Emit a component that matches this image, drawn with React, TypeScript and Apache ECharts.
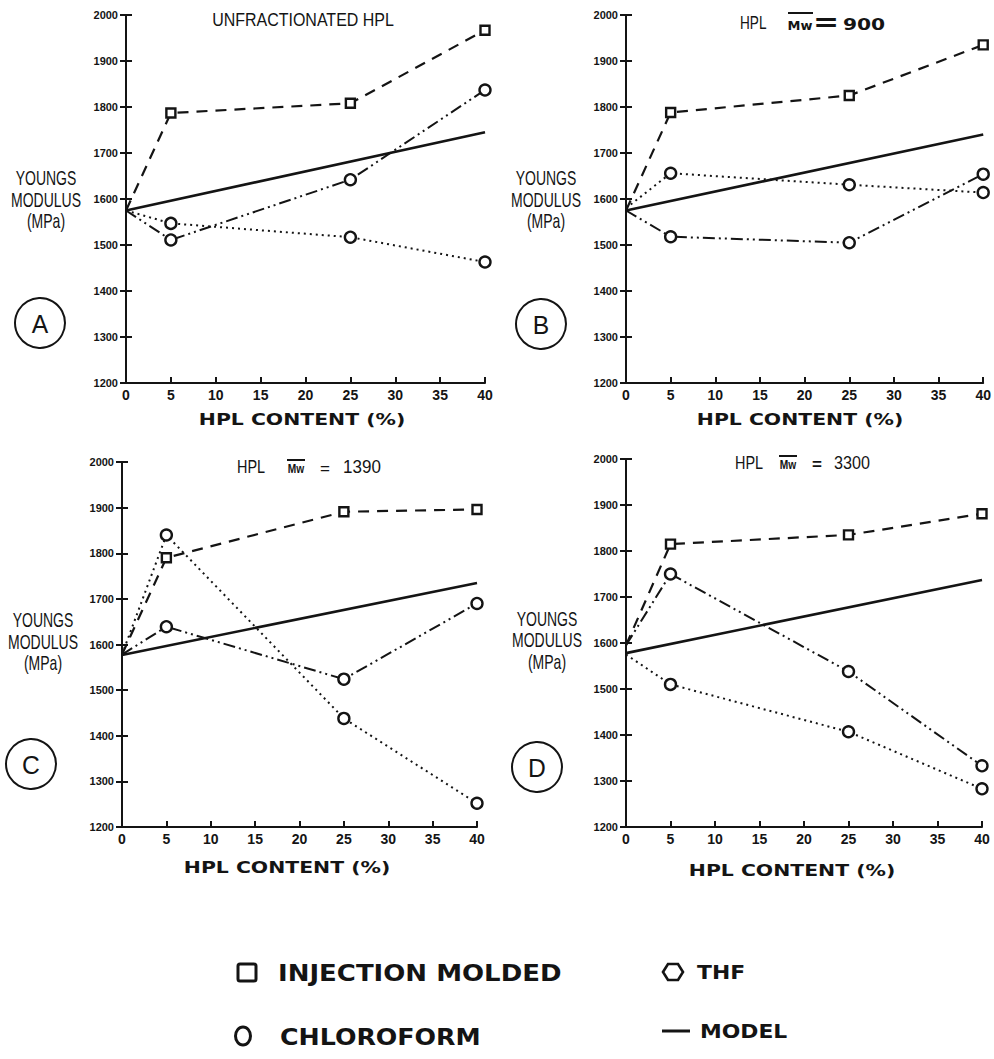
import React, { useEffect, useRef } from "react";
import * as echarts from "echarts";

// ---------- data ----------
const HPL_CONTENT = [0, 5, 25, 40];
const MODEL_X = [0, 40];
const Y_MIN = 1200;
const Y_MAX = 2000;
const Y_STEP = 100;
const X_MIN = 0;
const X_MAX = 40;
const X_STEP = 5;

const A_INJECTION = [1575, 1787, 1808, 1967];
const A_CHLOROFORM = [1575, 1547, 1517, 1463];
const A_THF = [1575, 1511, 1642, 1837];
const A_MODEL = [1575, 1745];

const B_INJECTION = [1575, 1788, 1825, 1935];
const B_CHLOROFORM = [1580, 1656, 1631, 1614];
const B_THF = [1575, 1518, 1505, 1654];
const B_MODEL = [1575, 1740];

const C_INJECTION = [1578, 1790, 1891, 1896];
const C_CHLOROFORM = [1578, 1840, 1438, 1252];
const C_THF = [1578, 1639, 1524, 1690];
const C_MODEL = [1577, 1735];

const D_INJECTION = [1595, 1815, 1835, 1881];
const D_CHLOROFORM = [1575, 1510, 1407, 1283];
const D_THF = [1595, 1750, 1538, 1333];
const D_MODEL = [1578, 1737];

const PANEL_LETTERS = ["A", "B", "C", "D"];
const X_NAME = "HPL CONTENT (%)";
const Y_NAME = ["YOUNGS", "MODULUS", "(MPa)"];
const LEGEND_LABELS = ["INJECTION MOLDED", "THF", "CHLOROFORM", "MODEL"];

const PANEL_DATA = [
  { inj: A_INJECTION, chl: A_CHLOROFORM, thf: A_THF, model: A_MODEL },
  { inj: B_INJECTION, chl: B_CHLOROFORM, thf: B_THF, model: B_MODEL },
  { inj: C_INJECTION, chl: C_CHLOROFORM, thf: C_THF, model: C_MODEL },
  { inj: D_INJECTION, chl: D_CHLOROFORM, thf: D_THF, model: D_MODEL },
];

// ---------- layout ----------
const INK = "#141414";
const GRIDS = [
  { left: 126, top: 15, width: 359, height: 368 },
  { left: 626, top: 15, width: 360, height: 368 },
  { left: 122, top: 462, width: 355, height: 365 },
  { left: 626, top: 459, width: 356, height: 368 },
];
const YNAME_POS = [
  { x: 46, y: [178, 200, 221] },
  { x: 546, y: [178, 200, 221] },
  { x: 43, y: [620, 642, 663] },
  { x: 547, y: [619, 640, 662] },
];
const XNAME_POS = [
  { x: 302, y: 420 },
  { x: 800, y: 420 },
  { x: 287, y: 868 },
  { x: 792, y: 871 },
];
const CIRCLE_POS = [
  { x: 40, y: 323 },
  { x: 541, y: 324 },
  { x: 31, y: 764 },
  { x: 537, y: 767 },
];

function pts(xs: number[], ys: number[], hideFirst: boolean) {
  return ys.map((v, i) =>
    i === 0 && hideFirst ? { value: [xs[i], v], symbol: "none" } : [xs[i], v]
  );
}

function txt(
  text: string,
  x: number,
  y: number,
  size: number,
  opts: any = {}
) {
  return {
    type: "text",
    x,
    y,
    scaleX: opts.scaleX ?? 1,
    scaleY: opts.scaleY ?? 1,
    silent: true,
    style: {
      text,
      fill: INK,
      fontSize: size,
      fontFamily: opts.family ?? "Liberation Sans",
      fontWeight: opts.weight ?? "normal",
      textAlign: opts.align ?? "center",
      textVerticalAlign: "middle",
    },
  };
}

function hline(x1: number, x2: number, y: number, w: number) {
  return {
    type: "line",
    silent: true,
    shape: { x1, y1: y, x2, y2: y },
    style: { stroke: INK, lineWidth: w },
  };
}

export default function App() {
  const ref = useRef<HTMLDivElement>(null);

  useEffect(() => {
    document.body.style.margin = "0";
    if (!ref.current) return;
    const chart = echarts.init(ref.current, undefined, { renderer: "svg" });

    const grid = GRIDS.map((g) => ({ ...g, containLabel: false }));

    const xAxis = GRIDS.map((_, i) => ({
      gridIndex: i,
      type: "value",
      min: X_MIN,
      max: X_MAX,
      interval: X_STEP,
      axisLine: { show: true, lineStyle: { color: INK, width: 2 } },
      axisTick: { show: true, inside: true, length: 6, lineStyle: { color: INK, width: 2 } },
      axisLabel: {
        color: INK,
        fontSize: 14,
        fontWeight: "bold",
        fontFamily: "Liberation Sans",
        margin: 5,
        formatter: (v: number) => String(v),
      },
      splitLine: { show: false },
    }));

    const yAxis: any[] = [];
    GRIDS.forEach((_, i) => {
      yAxis.push({
        gridIndex: i,
        type: "value",
        position: "left",
        min: Y_MIN,
        max: Y_MAX,
        interval: Y_STEP,
        axisLine: { show: true, lineStyle: { color: INK, width: 2 } },
        axisTick: { show: true, length: 6, lineStyle: { color: INK, width: 2 } },
        axisLabel: {
          color: INK,
          fontSize: 11,
          fontWeight: "bold",
          fontFamily: "Liberation Sans",
          margin: 8,
          formatter: (v: number) => String(v),
        },
        splitLine: { show: false },
      });
      yAxis.push({
        gridIndex: i,
        type: "value",
        position: "left",
        offset: 0,
        min: Y_MIN,
        max: Y_MAX,
        interval: Y_STEP,
        axisLine: { show: false },
        axisTick: { show: true, inside: true, length: 6, lineStyle: { color: INK, width: 2 } },
        axisLabel: { show: false },
        splitLine: { show: false },
      });
    });

    const series: any[] = [];
    PANEL_DATA.forEach((p, i) => {
      const base = { type: "line", xAxisIndex: i, yAxisIndex: 2 * i, silent: true };
      series.push({
        ...base,
        name: "MODEL",
        data: pts(MODEL_X, p.model, false),
        symbol: "none",
        lineStyle: { color: INK, width: 2.6, type: "solid" },
        z: 2,
      });
      series.push({
        ...base,
        name: "INJECTION MOLDED",
        data: pts(HPL_CONTENT, p.inj, true),
        symbol: "rect",
        symbolSize: 9,
        itemStyle: { color: "#fff", borderColor: INK, borderWidth: 2.4 },
        lineStyle: { color: INK, width: 2.2, type: [11, 8] },
        z: 3,
      });
      series.push({
        ...base,
        name: "CHLOROFORM",
        data: pts(HPL_CONTENT, p.chl, true),
        symbol: "circle",
        symbolSize: 11,
        itemStyle: { color: "#fff", borderColor: INK, borderWidth: 2.4 },
        lineStyle: { color: INK, width: 2, type: [2, 4] },
        z: 3,
      });
      series.push({
        ...base,
        name: "THF",
        data: pts(HPL_CONTENT, p.thf, true),
        symbol: "circle",
        symbolSize: 11,
        itemStyle: { color: "#fff", borderColor: INK, borderWidth: 2.4 },
        lineStyle: { color: INK, width: 2, type: [12, 4, 2, 4, 2, 4] },
        z: 3,
      });
    });

    const graphic: any[] = [];

    // titles
    graphic.push(txt("UNFRACTIONATED HPL", 303, 20, 16, { scaleY: 1.1 }));
    // B
    graphic.push(txt("HPL", 740, 23, 16, { align: "left", scaleX: 0.85, scaleY: 1.1 }));
    graphic.push(txt("Mw", 800, 25, 13, { weight: "bold", family: "DejaVu Sans" }));
    graphic.push(hline(788, 813, 13, 2));
    graphic.push(txt("=", 826, 22, 26, { weight: "bold", family: "DejaVu Sans", scaleX: 1.2 }));
    graphic.push(txt("900", 864, 25, 15, { weight: "bold", family: "DejaVu Sans", scaleX: 1.35 }));
    // C
    graphic.push(txt("HPL", 237, 467, 17, { align: "left", scaleX: 0.85, scaleY: 1.1 }));
    graphic.push(txt("Mw", 296, 469, 12, { weight: "bold", scaleX: 0.85 }));
    graphic.push(hline(287, 305, 460, 2));
    graphic.push(txt("=", 325, 468, 17));
    graphic.push(txt("1390", 362, 467, 17, { scaleY: 1.1 }));
    // D
    graphic.push(txt("HPL", 735, 463, 17, { align: "left", scaleX: 0.85, scaleY: 1.1 }));
    graphic.push(txt("Mw", 788, 465, 12, { weight: "bold", scaleX: 0.85 }));
    graphic.push(hline(779, 797, 456, 2));
    graphic.push(txt("=", 817, 464, 17, { weight: "bold" }));
    graphic.push(txt("3300", 852, 463, 17, { scaleY: 1.1, scaleX: 0.95 }));

    // axis names, circled letters
    for (let i = 0; i < 4; i++) {
      const yn = YNAME_POS[i];
      Y_NAME.forEach((line, k) => {
        graphic.push(txt(line, yn.x, yn.y[k], 20, { scaleX: 0.7 }));
      });
      const xn = XNAME_POS[i];
      graphic.push(txt(X_NAME, xn.x, xn.y, 15, { weight: "bold", family: "DejaVu Sans", scaleX: 1.36 }));
      const c = CIRCLE_POS[i];
      graphic.push({
        type: "circle",
        silent: true,
        shape: { cx: c.x, cy: c.y, r: 25 },
        style: { fill: "none", stroke: INK, lineWidth: 2 },
      });
      graphic.push(txt(PANEL_LETTERS[i], c.x, c.y + 1, 26, { scaleX: 0.95 }));
    }

    // legend
    graphic.push({
      type: "rect",
      silent: true,
      shape: { x: 238, y: 964, width: 18, height: 17, r: 2 },
      style: { fill: "none", stroke: INK, lineWidth: 3 },
    });
    graphic.push(txt(LEGEND_LABELS[0], 278, 973, 23, { align: "left", weight: "bold", family: "DejaVu Sans", scaleX: 1.13 }));
    graphic.push({
      type: "polygon",
      silent: true,
      shape: {
        points: [
          [663, 972],
          [668, 964],
          [678, 964],
          [683, 972],
          [678, 980],
          [668, 980],
        ],
      },
      style: { fill: "none", stroke: INK, lineWidth: 2.6 },
    });
    graphic.push(txt(LEGEND_LABELS[1], 697, 973, 19, { align: "left", weight: "bold", family: "DejaVu Sans", scaleX: 1.15 }));
    graphic.push({
      type: "ellipse",
      silent: true,
      shape: { cx: 243, cy: 1036, rx: 7.5, ry: 9 },
      style: { fill: "none", stroke: INK, lineWidth: 3 },
    });
    graphic.push(txt(LEGEND_LABELS[2], 280, 1037, 23, { align: "left", weight: "bold", family: "DejaVu Sans", scaleX: 1.1 }));
    graphic.push(hline(662, 690, 1031, 3));
    graphic.push(txt(LEGEND_LABELS[3], 700, 1032, 19, { align: "left", weight: "bold", family: "DejaVu Sans", scaleX: 1.15 }));

    chart.setOption({
      animation: false,
      backgroundColor: "#ffffff",
      grid,
      xAxis,
      yAxis,
      series,
      graphic,
    });

    return () => chart.dispose();
  }, []);

  return <div ref={ref} style={{ width: 994, height: 1059 }} />;
}
